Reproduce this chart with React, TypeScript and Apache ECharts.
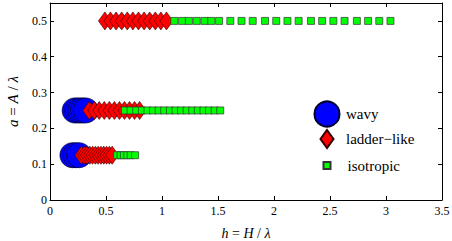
import React, { useEffect, useRef } from "react";
import * as echarts from "echarts";

// a = A / λ levels
const aLevels = [0.125, 0.25, 0.5];

// wavy (blue circles): h values per a level
const wavyH125 = [0.2, 0.23, 0.26];
const wavyH250 = [0.22, 0.245, 0.27, 0.295, 0.32];
const wavyH500: number[] = [];

// ladder-like (red diamonds)
const ladderH125 = [0.28, 0.305, 0.33, 0.355, 0.38, 0.405, 0.43, 0.455, 0.48, 0.505, 0.53, 0.555];
const ladderH250 = [0.35, 0.395, 0.44, 0.485, 0.53, 0.575, 0.62, 0.665, 0.71, 0.755, 0.8];
const ladderH500 = [0.49, 0.54, 0.59, 0.64, 0.69, 0.74, 0.79, 0.84, 0.89, 0.94, 0.99, 1.04];

// isotropic (green squares)
const isoH125 = [0.6, 0.63, 0.66, 0.69, 0.72, 0.76];
const isoH250 = [0.67, 0.72, 0.77, 0.82, 0.87, 0.92, 0.97, 1.02, 1.07, 1.12, 1.17, 1.22, 1.27, 1.32, 1.37, 1.42, 1.47, 1.52];
const isoH500 = [1.11, 1.18, 1.24, 1.31, 1.38, 1.44, 1.51, 1.61, 1.71, 1.81, 1.92, 2.02, 2.12, 2.22, 2.33, 2.43, 2.53, 2.63, 2.74, 2.84, 2.94, 3.04];

const seriesNames = ["wavy", "ladder\u2212like", "isotropic"];

const pairs = (groups: number[][]) => {
  const out: number[][] = [];
  groups.forEach((hs, i) => hs.forEach((h) => out.push([h, aLevels[i]])));
  return out;
};

const SERIF = "serif";

export default function App() {
  const ref = useRef<HTMLDivElement>(null);
  useEffect(() => {
    if (!ref.current) return;
    const chart = echarts.init(ref.current, null, { renderer: "svg" });
    const axisCommon = {
      axisLine: { show: true, onZero: false, lineStyle: { color: "#000", width: 1 } },
      axisTick: { show: true, inside: true, length: 4, lineStyle: { color: "#000" } },
      splitLine: { show: false },
    };
    const legendBase = (name: string, left: number, top: number, w: number, h: number, pad: number) => ({
      data: [name],
      left,
      top,
      orient: "vertical",
      padding: 0,
      itemWidth: w,
      itemHeight: h,
      selectedMode: false,
      textStyle: { fontFamily: SERIF, fontSize: 15, color: "#000", padding: [0, 0, 0, pad] },
    });
    chart.setOption({
      animation: false,
      textStyle: { fontFamily: SERIF },
      grid: { left: 50, top: 3, width: 392, height: 197, containLabel: false, outerBoundsMode: "none" },
      xAxis: [
        {
          type: "value",
          min: 0,
          max: 3.5,
          interval: 0.5,
          position: "bottom",
          ...axisCommon,
          axisLabel: { fontFamily: SERIF, fontSize: 12, color: "#000", margin: 5 },
          name: "{i|h} = {i|H} / {i|\u03bb}",
          nameLocation: "middle",
          nameGap: 26,
          nameTextStyle: {
            fontFamily: SERIF,
            fontSize: 14,
            color: "#000",
            rich: { i: { fontFamily: SERIF, fontSize: 14, fontStyle: "italic", color: "#000" } },
          },
        },
        {
          type: "value",
          min: 0,
          max: 3.5,
          interval: 0.5,
          position: "top",
          ...axisCommon,
          axisLabel: { show: false },
        },
      ],
      yAxis: [
        {
          type: "value",
          min: 0,
          max: 0.55,
          interval: 0.1,
          position: "left",
          ...axisCommon,
          axisLabel: { fontFamily: SERIF, fontSize: 12, color: "#000", margin: 3, showMaxLabel: false },
          name: "{i|a} = {i|A} / {i|\u03bb}",
          nameLocation: "middle",
          nameRotate: 90,
          nameGap: 30,
          nameTextStyle: {
            fontFamily: SERIF,
            fontSize: 15,
            color: "#000",
            rich: { i: { fontFamily: SERIF, fontSize: 15, fontStyle: "italic", color: "#000" } },
          },
        },
        {
          type: "value",
          min: 0,
          max: 0.55,
          interval: 0.1,
          position: "right",
          ...axisCommon,
          axisLabel: { show: false },
        },
      ],
      legend: [
        legendBase(seriesNames[0], 313.5, 100.5, 25, 25, 1.5),
        legendBase(seriesNames[1], 319.5, 129, 13, 18, 7.5),
        legendBase(seriesNames[2], 322.5, 158, 7, 7, 12),
      ],
      series: [
        {
          name: seriesNames[0],
          type: "scatter",
          symbol: "circle",
          symbolSize: 25,
          itemStyle: { color: "#0000ff", borderColor: "#000033", borderWidth: 0.7, opacity: 1 },
          data: pairs([wavyH125, wavyH250, wavyH500]),
        },
        {
          name: seriesNames[1],
          type: "scatter",
          symbol: "diamond",
          symbolSize: [13, 18],
          itemStyle: { color: "#ff0000", borderColor: "#330000", borderWidth: 0.6, opacity: 1 },
          data: pairs([ladderH125, ladderH250, ladderH500]),
        },
        {
          name: seriesNames[2],
          type: "scatter",
          symbol: "rect",
          symbolSize: 7,
          itemStyle: { color: "#00ff00", borderColor: "#333333", borderWidth: 0.7, opacity: 1 },
          data: pairs([isoH125, isoH250, isoH500]),
        },
      ],
    });
    return () => chart.dispose();
  }, []);
  return (
    <div
      ref={ref}
      style={{ position: "fixed", left: 0, top: 0, width: 452, height: 241, background: "#fff" }}
    />
  );
}
